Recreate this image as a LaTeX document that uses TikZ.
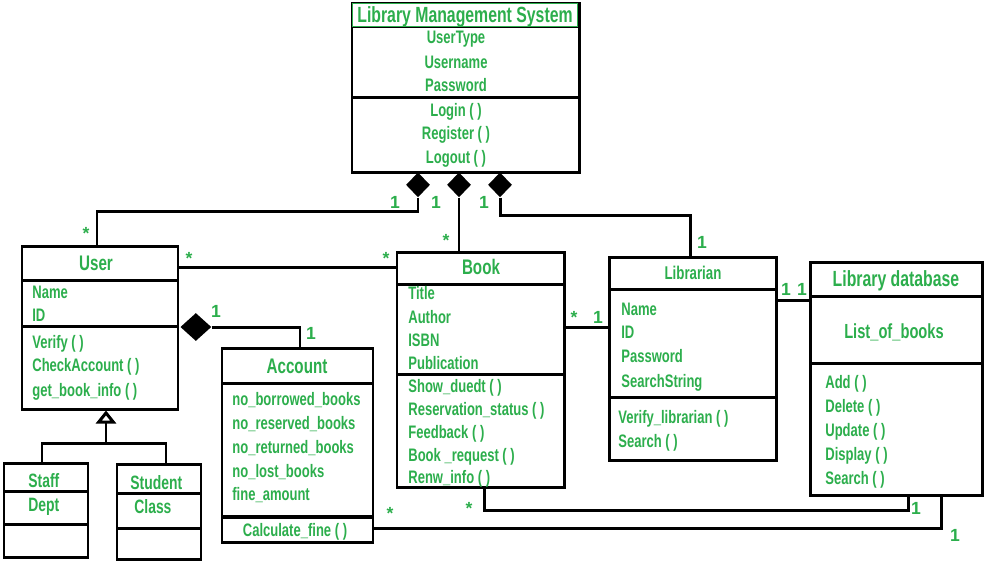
\documentclass[tikz,border=0pt]{standalone}
\usepackage{fontspec}
\usepackage{xcolor}
\usetikzlibrary{arrows.meta,positioning,fit,shapes.geometric}

\newfontfamily\umlfont{Liberation Sans Bold}[FakeStretch=0.72]
\newfontfamily\multfont{Liberation Sans Bold}
\definecolor{umlgreen}{RGB}{44,174,76}

\begin{document}
\begin{tikzpicture}[
    x=0.02cm, y=-0.02cm,
    classbox/.style={rectangle, draw, line width=1.7pt, inner sep=0pt},
    divider/.style={line width=1.7pt},
    title/.style={text=umlgreen, inner sep=0pt, text height=8.6pt, text depth=0pt, font=\umlfont\fontsize{12}{14}\selectfont},
    member/.style={text=umlgreen, inner sep=0pt, anchor=west, text height=7.4pt, text depth=0pt, font=\umlfont\fontsize{10.3}{12}\selectfont},
    cmember/.style={member, anchor=center},
    mult/.style={text=umlgreen, inner sep=0pt, text height=7.2pt, text depth=0pt, font=\multfont\fontsize{10}{12}\selectfont},
    link/.style={line width=1.7pt},
    comp/.style={diamond, fill=black, inner sep=0pt, minimum width=0.48cm, minimum height=0.5cm},
    inherit/.style={line width=1.7pt, -{Triangle[open, length=0.26cm, width=0.4cm]}}
]
\useasboundingbox (0,0) rectangle (997,569);

% Library Management System
\node[classbox, fit={(352,3) (579,172)}] (lms) {};
\draw[divider] (352,27) -- (579,27);
\draw[divider] (352,97) -- (579,97);
\node[title, draw=umlgreen, line width=0.8pt, minimum width=4.5cm, minimum height=0.46cm, font=\umlfont\fontsize{12.5}{14}\selectfont] (lms-title) at (465,15) {Library Management System};
\node[cmember] (lms-a1) at (456,37) {UserType};
\node[cmember] (lms-a2) at (456,62) {Username};
\node[cmember] (lms-a3) at (456,85) {Password};
\node[cmember] (lms-m1) at (456,110) {Login ( )};
\node[cmember] (lms-m2) at (456,133) {Register ( )};
\node[cmember] (lms-m3) at (456,157) {Logout ( )};

\node[comp, anchor=north] (dA) at (418,172) {};
\node[comp, anchor=north] (dB) at (459,172) {};
\node[comp, anchor=north] (dC) at (500,172) {};

% User
\node[classbox, fit={(22,246) (178,409)}] (user) {};
\draw[divider] (22,280) -- (178,280);
\draw[divider] (22,326) -- (178,326);
\node[title] (user-title) at (96,263) {User};
\node[member] (user-a1) at (32,292) {Name};
\node[member] (user-a2) at (32,315) {ID};
\node[member] (user-m1) at (32,342) {Verify ( )};
\node[member] (user-m2) at (32,365) {CheckAccount ( )};
\node[member] (user-m3) at (32,390) {get\_book\_info ( )};
\node[comp, minimum width=0.62cm, minimum height=0.56cm, anchor=west] (dU) at (180,327) {};

% Staff and Student
\node[classbox, fit={(4,463) (88,557)}] (staff) {};
\draw[divider] (4,491) -- (88,491);
\draw[divider] (4,524) -- (88,524);
\node[member, font=\umlfont\fontsize{11}{13}\selectfont] (staff-title) at (28,481) {Staff};
\node[member, font=\umlfont\fontsize{11}{13}\selectfont] (staff-a1) at (28,505) {Dept};
\node[classbox, fit={(117,464) (201,559)}] (student) {};
\draw[divider] (117,493) -- (201,493);
\draw[divider] (117,528) -- (201,528);
\node[member, font=\umlfont\fontsize{11}{13}\selectfont] (student-title) at (130,483) {Student};
\node[member, font=\umlfont\fontsize{11}{13}\selectfont] (student-a1) at (134,507) {Class};

% Account
\node[classbox, fit={(222,348) (373,542)}] (acc) {};
\draw[divider] (222,383) -- (373,383);
\draw[line width=2.4pt] (222,517) -- (373,517);
\node[title] (acc-title) at (297,366) {Account};
\node[member] (acc-a1) at (232,399) {no\_borrowed\_books};
\node[member] (acc-a2) at (232,423) {no\_reserved\_books};
\node[member] (acc-a3) at (232,447) {no\_returned\_books};
\node[member] (acc-a4) at (232,471) {no\_lost\_books};
\node[member] (acc-a5) at (232,494) {fine\_amount};
\node[cmember] (acc-m1) at (295,530) {Calculate\_fine ( )};

% Book
\node[classbox, fit={(397,252) (564,487)}] (book) {};
\draw[divider] (397,284) -- (564,284);
\draw[divider] (397,374) -- (566,374);
\node[title] (book-title) at (481,267) {Book};
\node[member] (book-a1) at (408,293) {Title};
\node[member] (book-a2) at (408,317) {Author};
\node[member] (book-a3) at (408,340) {ISBN};
\node[member] (book-a4) at (408,363) {Publication};
\node[member] (book-m1) at (408,386) {Show\_duedt ( )};
\node[member] (book-m2) at (408,409) {Reservation\_status ( )};
\node[member] (book-m3) at (408,432) {Feedback ( )};
\node[member] (book-m4) at (408,455) {Book \_request ( )};
\node[member] (book-m5) at (408,477) {Renw\_info ( )};

% Librarian
\node[classbox, fit={(609,257) (776,460)}] (lib) {};
\draw[divider] (609,289) -- (776,289);
\draw[divider] (609,397) -- (776,397);
\node[title, text height=7.5pt, font=\umlfont\fontsize{10.5}{12}\selectfont] (lib-title) at (693,273) {Librarian};
\node[member] (lib-a1) at (621,309) {Name};
\node[member] (lib-a2) at (621,332) {ID};
\node[member] (lib-a3) at (621,356) {Password};
\node[member] (lib-a4) at (621,381) {SearchString};
\node[member] (lib-m1) at (618,417) {Verify\_librarian ( )};
\node[member] (lib-m2) at (618,441) {Search ( )};

% Library database
\node[classbox, fit={(810,262) (982,495)}] (db) {};
\draw[divider] (810,296) -- (982,296);
\draw[divider] (810,363) -- (982,363);
\node[title, text height=9pt, font=\umlfont\fontsize{12.5}{14}\selectfont] (db-title) at (896,279) {Library database};
\node[title, text height=8.3pt, font=\umlfont\fontsize{11.6}{14}\selectfont] (db-a1) at (894,331) {List\_of\_books};
\node[member] (db-m1) at (825,382) {Add ( )};
\node[member] (db-m2) at (825,406) {Delete ( )};
\node[member] (db-m3) at (825,430) {Update ( )};
\node[member] (db-m4) at (825,454) {Display ( )};
\node[member] (db-m5) at (825,478) {Search ( )};

% Connectors
\coordinate (ua) at (97,211);
\draw[link] (dA.south) |- (ua) -- (ua |- user.north);
\draw[link] (dB.south) -- (dB.south |- book.north);
\coordinate (la) at (690,215);
\draw[link] (dC.south) |- (la) -- (la |- lib.north);
\coordinate (ub) at (290,267);
\draw[link] (user.east |- ub) -- (book.west |- ub);
\coordinate (ua2) at (300,327);
\draw[link] (dU.east) -- (ua2) -- (ua2 |- acc.north);
\coordinate (bl) at (586,327);
\draw[link] (book.east |- bl) -- (lib.west |- bl);
\coordinate (ld) at (792,300);
\draw[link] (lib.east |- ld) -- (db.west |- ld);
\coordinate (gen) at (106,443);
\coordinate (genL) at (42,443);
\coordinate (genR) at (166,443);
\draw[link] (genL |- staff.north) -- (genL) -- (genR) -- (genR |- student.north);
\draw[inherit] (gen) -- (gen |- user.south);
\coordinate (bd) at (484,510);
\coordinate (bd2) at (908,510);
\draw[link] (bd |- book.south) -- (bd) -- (bd2) -- (bd2 |- db.south);
\coordinate (ad) at (941,528);
\draw[link] (acc.east |- ad) -- (ad) -- (ad |- db.south);

% Multiplicities
\node[mult] (m1) at (395,202) {1};
\node[mult] (m2) at (436,202) {1};
\node[mult] (m3) at (484,202) {1};
\node[mult] (m4) at (86,233) {*};
\node[mult] (m5) at (446,240) {*};
\node[mult] (m6) at (702,242) {1};
\node[mult] (m7) at (189,258) {*};
\node[mult] (m8) at (386,258) {*};
\node[mult] (m9) at (216,311) {1};
\node[mult] (m10) at (311,333) {1};
\node[mult] (m11) at (574,317) {*};
\node[mult] (m12) at (598,317) {1};
\node[mult] (m13) at (786,289) {1};
\node[mult] (m14) at (802,289) {1};
\node[mult] (m15) at (469,508) {*};
\node[mult] (m16) at (916,508) {1};
\node[mult] (m17) at (390,513) {*};
\node[mult] (m18) at (955,535) {1};

\end{tikzpicture}
\end{document}
